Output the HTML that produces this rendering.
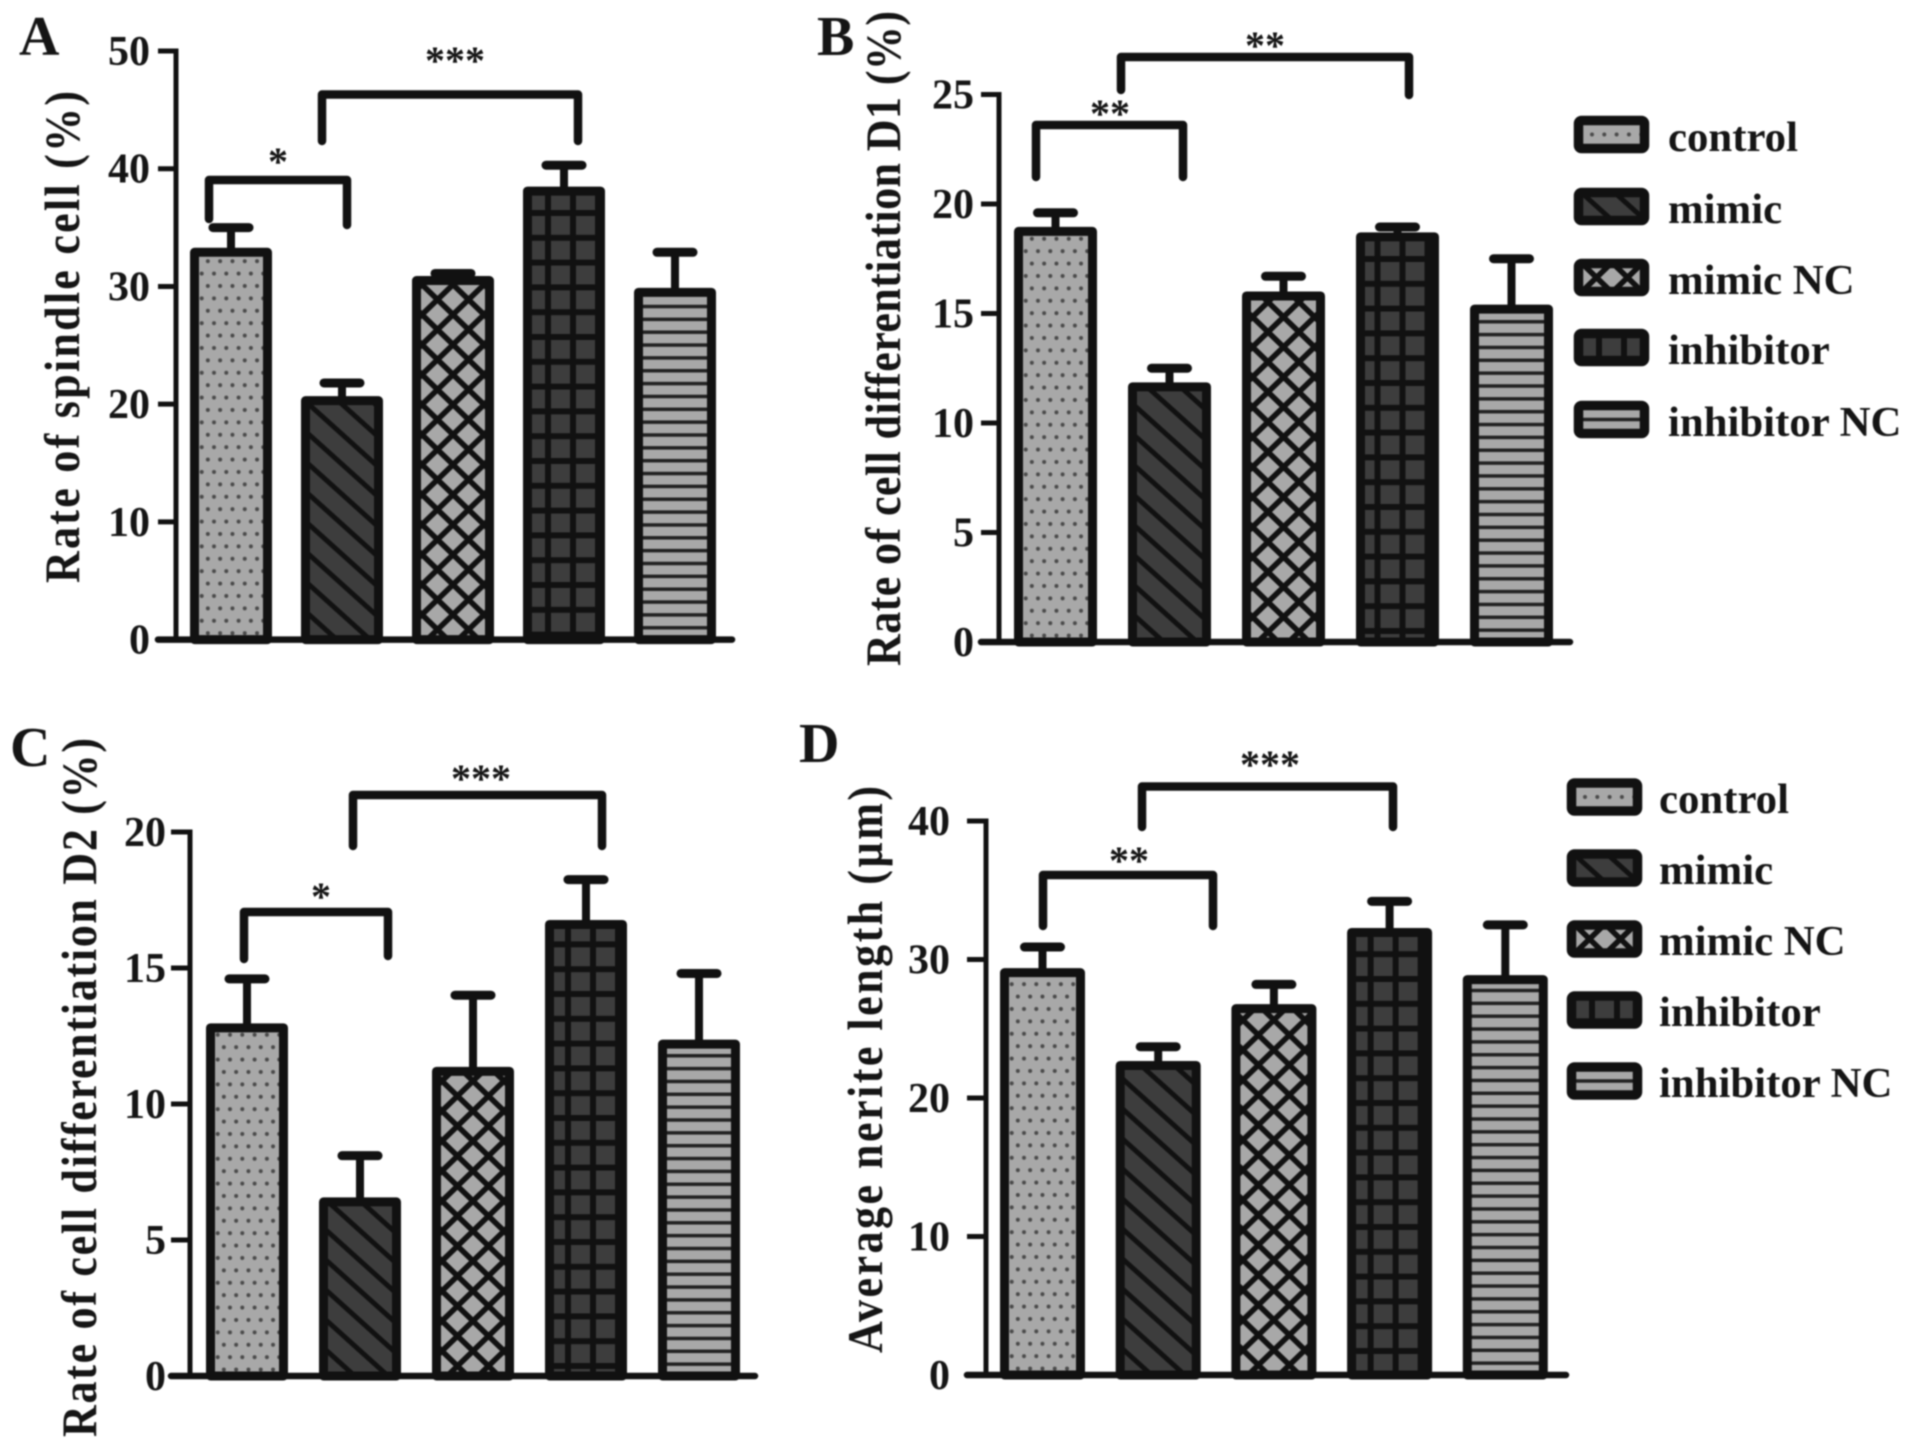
<!DOCTYPE html>
<html lang="en">
<head>
<meta charset="utf-8">
<title>Spindle cell and differentiation bar charts</title>
<style>
  html, body { margin: 0; padding: 0; background: #fff; }
  svg { display: block; filter: blur(0.8px); }
  text { font-family: "Liberation Serif", serif; font-weight: bold; fill: #151515; }
  .bracket { fill: none; stroke: #111; stroke-width: 8.5; stroke-linecap: round; stroke-linejoin: round; }
  .star { font-size: 40px; text-anchor: middle; }
  .letter { font-size: 56px; }
  .title { font-size: 44px; }
  .tick { font-size: 42px; text-anchor: end; }
  .legend-text { font-size: 42.8px; }
  .swatch { stroke: #111; stroke-width: 9.5; stroke-linejoin: round; }
</style>
</head>
<body>
<svg id="figure" xmlns="http://www.w3.org/2000/svg" width="1913" height="1453" viewBox="0 0 1913 1453">
  <defs id="defs"></defs>
  <rect width="1913" height="1453" fill="#fff"/>

  <!-- Panel A annotations -->
  <text class="letter" x="19" y="55">A</text>
  <text class="title" transform="translate(79 583) rotate(-90) scale(1 1.14)" textLength="492" lengthAdjust="spacing">Rate of spindle cell (%)</text>
  <path class="bracket" d="M209 219V180H347V225"/>
  <path class="bracket" d="M322 141V94.500H578V141"/>
  <text class="star" x="278" y="175">*</text>
  <text class="star" x="455" y="74">***</text>

  <!-- Panel B annotations -->
  <text class="letter" x="817" y="55">B</text>
  <text class="title" transform="translate(900 666) rotate(-90) scale(1 1.14)" textLength="655" lengthAdjust="spacing">Rate of cell differentiation D1 (%)</text>
  <path class="bracket" d="M1036 177V125H1183V177"/>
  <path class="bracket" d="M1121 90V57H1409V95"/>
  <text class="star" x="1110" y="127">**</text>
  <text class="star" x="1265" y="59">**</text>

  <!-- Panel C annotations -->
  <text class="letter" x="10" y="766">C</text>
  <text class="title" transform="translate(96 1437) rotate(-90) scale(1 1.14)" textLength="699" lengthAdjust="spacing">Rate of cell differentiation D2 (%)</text>
  <path class="bracket" d="M244 959V912H388V956"/>
  <path class="bracket" d="M353 846V795H602V846"/>
  <text class="star" x="321" y="910">*</text>
  <text class="star" x="481" y="792">***</text>

  <!-- Panel D annotations -->
  <text class="letter" x="799" y="762">D</text>
  <text class="title" transform="translate(882 1353) rotate(-90) scale(1 1.14)" textLength="567" lengthAdjust="spacing">Average nerite length (µm)</text>
  <path class="bracket" d="M1043 926V875H1213V926"/>
  <path class="bracket" d="M1142 827V786.500H1393V827"/>
  <text class="star" x="1129" y="874">**</text>
  <text class="star" x="1270" y="778">***</text>

  <!-- Legend beside panel B -->
  <g>
    <rect class="swatch" x="1578.500" y="120.500" width="66" height="28" rx="3" fill="url(#lb-dots)"/>
    <text class="legend-text" x="1668" y="151">control</text>
    <rect class="swatch" x="1578.500" y="192.500" width="66" height="28" rx="3" fill="url(#lb-diag)"/>
    <text class="legend-text" x="1668" y="223">mimic</text>
    <rect class="swatch" x="1578.500" y="263.500" width="66" height="28" rx="3" fill="url(#lb-hatch)"/>
    <text class="legend-text" x="1668" y="294">mimic NC</text>
    <rect class="swatch" x="1578.500" y="333.500" width="66" height="28" rx="3" fill="url(#lb-grid)"/>
    <text class="legend-text" x="1668" y="364">inhibitor</text>
    <rect class="swatch" x="1578.500" y="405.500" width="66" height="28" rx="3" fill="url(#lb-lines)"/>
    <text class="legend-text" x="1668" y="436">inhibitor NC</text>
  </g>

  <!-- Legend beside panel D -->
  <g>
    <rect class="swatch" x="1571.500" y="783" width="66" height="28" rx="3" fill="url(#ld-dots)"/>
    <text class="legend-text" x="1659" y="813">control</text>
    <rect class="swatch" x="1571.500" y="854" width="66" height="28" rx="3" fill="url(#ld-diag)"/>
    <text class="legend-text" x="1659" y="884">mimic</text>
    <rect class="swatch" x="1571.500" y="925" width="66" height="28" rx="3" fill="url(#ld-hatch)"/>
    <text class="legend-text" x="1659" y="955">mimic NC</text>
    <rect class="swatch" x="1571.500" y="996" width="66" height="28" rx="3" fill="url(#ld-grid)"/>
    <text class="legend-text" x="1659" y="1026">inhibitor</text>
    <rect class="swatch" x="1571.500" y="1067" width="66" height="28" rx="3" fill="url(#ld-lines)"/>
    <text class="legend-text" x="1659" y="1097">inhibitor NC</text>
  </g>

  <g id="charts"></g>
</svg>

<script>
// Data
const categories = ['control', 'mimic', 'mimic-nc', 'inhibitor', 'inhibitor-nc'];
const patternKinds = ['dots', 'diag', 'hatch', 'grid', 'lines'];

const valuesA = [32.9, 20.3, 30.5, 38.1, 29.5];
const errorsA = [2.1, 1.5, 0.6, 2.2, 3.4];
const ticksA = [0, 10, 20, 30, 40, 50];

const valuesB = [18.75, 11.65, 15.8, 18.5, 15.2];
const errorsB = [0.85, 0.85, 0.9, 0.45, 2.3];
const ticksB = [0, 5, 10, 15, 20, 25];

const valuesC = [12.8, 6.4, 11.2, 16.6, 12.2];
const errorsC = [1.8, 1.7, 2.8, 1.65, 2.6];
const ticksC = [0, 5, 10, 15, 20];

const valuesD = [29.05, 22.35, 26.45, 31.95, 28.55];
const errorsD = [1.85, 1.35, 1.75, 2.25, 3.95];
const ticksD = [0, 10, 20, 30, 40];

// Layout of each panel
const panelA = { id: 'a', axisX: 176, tickLeft: 158, xEnd: 732, y0: 639.6, yTop: 51, max: 50, first: 190, step: 111, width: 82, labelRight: 150, gridX: -16, gridY: -5, values: valuesA, errors: errorsA, ticks: ticksA };
const panelB = { id: 'b', axisX: 999, tickLeft: 981, xEnd: 1570, y0: 642, yTop: 94.5, max: 25, first: 1014, step: 114, width: 83, labelRight: 974, gridX: -20, gridY: -11, values: valuesB, errors: errorsB, ticks: ticksB };
const panelC = { id: 'c', axisX: 190, tickLeft: 171, xEnd: 755, y0: 1376, yTop: 832, max: 20, first: 206, step: 113, width: 82, labelRight: 166, gridX: -18, gridY: -10, values: valuesC, errors: errorsC, ticks: ticksC };
const panelD = { id: 'd', axisX: 986, tickLeft: 967, xEnd: 1566, y0: 1375, yTop: 821, max: 40, first: 1000, step: 115.7, width: 85, labelRight: 950, gridX: -19, gridY: -24, values: valuesD, errors: errorsD, ticks: ticksD };

const NS = 'http://www.w3.org/2000/svg';
const LIGHT = '#a8a8a8';
const DARK = '#3d3d3d';
const INK = '#111';
const BAR_STROKE = 9;

function makePattern(kind, id, ax, ay) {
  const p = document.createElementNS(NS, 'pattern');
  p.setAttribute('id', id);
  p.setAttribute('patternUnits', 'userSpaceOnUse');
  let w = 30, h = 30, body = '', transform = 'translate(' + ax + ' ' + ay + ')';
  if (kind === 'dots') {
    w = 12.3; h = 24.8;
    body = '<rect width="' + w + '" height="' + h + '" fill="' + LIGHT + '"/>' +
      '<circle cx="2.7" cy="6" r="2" fill="#4a4a4a"/>' +
      '<circle cx="8.85" cy="18.4" r="2" fill="#4a4a4a"/>';
  } else if (kind === 'diag') {
    w = 22.3; h = 22.3;
    transform += ' rotate(42)';
    body = '<rect width="' + w + '" height="' + h + '" fill="' + DARK + '"/><rect y="0" width="' + w + '" height="5" fill="' + INK + '"/>';
  } else if (kind === 'hatch') {
    w = 31; h = 30;
    body = '<rect width="31" height="30" fill="' + LIGHT + '"/>' +
      '<path d="M-3.1 -3L34.1 33M34.1 -3L-3.100 33" stroke="' + INK + '" stroke-width="5.5" fill="none"/>';
  } else if (kind === 'grid') {
    w = 25; h = 24.8;
    body = '<rect width="25" height="24.8" fill="' + DARK + '"/>' +
      '<rect width="6" height="24.8" fill="' + INK + '"/><rect width="25" height="6" fill="' + INK + '"/>';
  } else {
    w = 12.85; h = 12.85;
    body = '<rect width="12.85" height="12.85" fill="' + LIGHT + '"/><rect width="12.85" height="3.5" fill="#222"/>';
  }
  p.setAttribute('width', w);
  p.setAttribute('height', h);
  p.setAttribute('patternTransform', transform);
  p.innerHTML = body;
  document.getElementById('defs').appendChild(p);
}

function anchorFor(kind, left, width, panel) {
  const cx = left + width / 2;
  if (kind === 'dots') return [left + BAR_STROKE, panel.y0];
  if (kind === 'diag') return [left + 8, panel.y0 - 28.4];
  if (kind === 'hatch') return [cx, panel.y0 - 25];
  if (kind === 'grid') return [cx + panel.gridX - 3, panel.y0 + panel.gridY - 3];
  return [left, panel.y0 - 0.75];
}

function line(parent, x1, y1, x2, y2, width, cap) {
  const el = document.createElementNS(NS, 'line');
  el.setAttribute('x1', x1);
  el.setAttribute('y1', y1);
  el.setAttribute('x2', x2);
  el.setAttribute('y2', y2);
  el.setAttribute('stroke', INK);
  el.setAttribute('stroke-width', width);
  el.setAttribute('stroke-linecap', cap || 'butt');
  parent.appendChild(el);
  return el;
}

function drawPanel(panel) {
  const root = document.getElementById('charts');
  const g = document.createElementNS(NS, 'g');
  
  
  root.appendChild(g);

  const yScale = v => panel.y0 - v * (panel.y0 - panel.yTop) / panel.max;
  const xScale = i => panel.first + i * panel.step;

  categories.forEach((cat, i) => {
    const left = xScale(i);
    const top = yScale(panel.values[i]);
    const cx = left + panel.width / 2;
    const kind = patternKinds[i];
    const anchor = anchorFor(kind, left, panel.width, panel);
    const pid = 'p-' + panel.id + '-' + kind;
    makePattern(kind, pid, anchor[0], anchor[1]);

    const capY = yScale(panel.values[i] + panel.errors[i]);
    const stem = line(g, cx, top, cx, capY, 8);
    
    
    const cap = line(g, cx - 18, capY, cx + 18, capY, 9, 'round');
    
    

    const bar = document.createElementNS(NS, 'rect');
    bar.setAttribute('x', left + BAR_STROKE / 2);
    bar.setAttribute('y', top);
    bar.setAttribute('width', panel.width - BAR_STROKE);
    bar.setAttribute('height', panel.y0 - top);
    bar.setAttribute('fill', 'url(#' + pid + ')');
    bar.setAttribute('stroke', INK);
    bar.setAttribute('stroke-width', BAR_STROKE);
    bar.setAttribute('stroke-linejoin', 'round');
    
    
    g.appendChild(bar);
  });

  const yAxis = line(g, panel.axisX, panel.yTop - 2.5, panel.axisX, panel.y0, 5);
  
  
  const xAxis = line(g, panel.tickLeft, panel.y0, panel.xEnd, panel.y0, 6.5, 'round');
  
  

  panel.ticks.forEach(t => {
    const y = yScale(t);
    const mark = line(g, panel.tickLeft, y, panel.axisX, y, 5);
    
    
    const label = document.createElementNS(NS, 'text');
    label.setAttribute('class', 'tick');
    label.setAttribute('x', panel.labelRight);
    label.setAttribute('y', y + 14);
    label.textContent = t;
    
    
    g.appendChild(label);
  });
}

[panelA, panelB, panelC, panelD].forEach(drawPanel);

// Fill patterns for the legend swatches
makePattern('dots', 'lb-dots', 1589.3, 128.5);
makePattern('diag', 'lb-diag', 1600, 206);
makePattern('hatch', 'lb-hatch', 1612, 262.5);
makePattern('grid', 'lb-grid', 1596, 331);
makePattern('lines', 'lb-lines', 1583, 417.75);
makePattern('dots', 'ld-dots', 1582.3, 791);
makePattern('diag', 'ld-diag', 1593, 868);
makePattern('hatch', 'ld-hatch', 1605, 924);
makePattern('grid', 'ld-grid', 1589, 993.5);
makePattern('lines', 'ld-lines', 1576, 1079.25);
</script>
</body>
</html>
